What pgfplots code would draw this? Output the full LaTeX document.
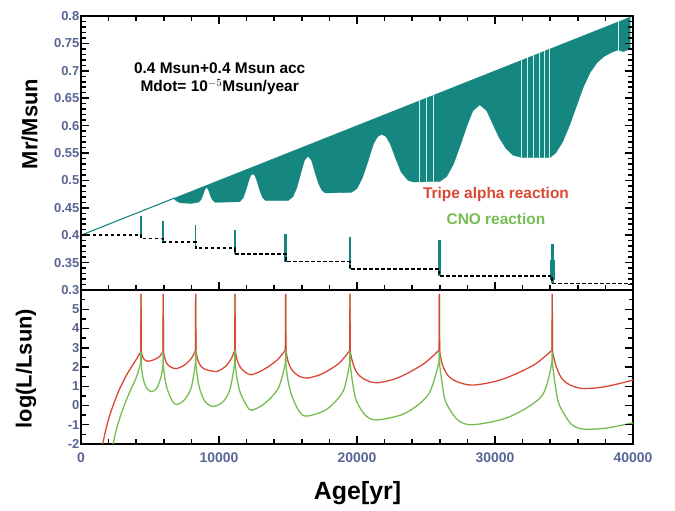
\documentclass[border=0pt]{standalone}
\usepackage{fontspec}
\setmainfont{Liberation Sans}
\usepackage{pgfplots}
\pgfplotsset{compat=1.18}

\definecolor{tealc}{RGB}{22,134,128}
\definecolor{redc}{RGB}{218,72,52}
\definecolor{greenc}{RGB}{118,188,82}
\definecolor{tickc}{RGB}{88,100,150}
\definecolor{gapc}{RGB}{205,242,242}

\pgfplotsset{
  base/.style={
    scale only axis, width=552bp, xmin=0, xmax=40000,
    xtick={0,10000,20000,30000,40000}, minor x tick num=4,
    axis line style={line width=1.3pt, draw=black},
    major tick length=8pt, minor tick length=5pt,
    tick style={draw=black, line width=1.5pt},
    tick label style={font=\fontsize{13}{13}\selectfont\bfseries, text=tickc},
    /pgf/number format/assume math mode=true,
    scaled x ticks=false, scaled y ticks=false,
    xticklabel style={/pgf/number format/set thousands separator={}, font=\fontsize{14}{14}\selectfont\bfseries, yshift=-5bp},
    yticklabel style={/pgf/number format/fixed, /pgf/number format/precision=2, inner sep=1.5bp},
  },
  redl/.style={redc, line width=1.3pt, smooth, tension=0.5},
  greenl/.style={greenc, line width=1.3pt, smooth, tension=0.5},
  tickln/.style={black, line width=1.5pt, unbounded coords=jump},
}

\begin{document}
\begin{tikzpicture}
\path (0,0) rectangle (675bp,511bp);

% ---------------- top panel ----------------
\begin{axis}[base, at={(81bp,221bp)}, anchor=south west, height=274bp,
  ymin=0.3, ymax=0.8,
  ytick={0.3,0.35,0.4,0.45,0.5,0.55,0.6,0.65,0.7,0.75,0.8},
  minor y tick num=4, xticklabels={},
  ylabel={Mr/Msun},
  ylabel style={at={(axis description cs:-0.093,0.606)}, anchor=center, font=\fontsize{22}{22}\selectfont\bfseries},
]
\addplot[tealc, line width=1.1pt] coordinates {(0,0.400) (6800,0.468)};
\addplot[fill=tealc, draw=tealc, line width=0.3pt] coordinates {
 (6700,0.467) (39800,0.798)
 (39800,0.740)(39300,0.735)(38900,0.738)(38400,0.733)(37900,0.726)(37400,0.715)
 (36900,0.697)(36400,0.670)(35900,0.635)(35400,0.600)(34900,0.570)(34400,0.550)
 (34000,0.542)(31900,0.542)
 (31300,0.546)(30800,0.558)(30300,0.578)(29800,0.605)(29400,0.627)(28900,0.638)
 (28400,0.627)(28000,0.602)(27500,0.565)(27000,0.530)(26500,0.507)(26000,0.498)
 (24100,0.497)(23700,0.500)(23200,0.515)(22800,0.540)(22400,0.567)(22100,0.580)
 (21800,0.584)(21500,0.580)(21200,0.567)(20800,0.535)(20400,0.505)(20000,0.485)
 (19600,0.478)(17700,0.477)(17450,0.482)(17200,0.495)(16950,0.515)(16700,0.537)
 (16450,0.544)(16200,0.537)(15950,0.515)(15650,0.487)(15350,0.470)(15000,0.463)
 (13400,0.463)(13150,0.469)(12950,0.482)(12750,0.499)(12600,0.509)(12450,0.512)
 (12300,0.509)(12150,0.499)(11950,0.482)(11750,0.468)(11500,0.461)(9700,0.460)
 (9500,0.465)(9350,0.474)(9250,0.482)(9100,0.488)(8950,0.482)(8850,0.474)
 (8700,0.465)(8500,0.460)(8000,0.458)(7200,0.459)(6950,0.462)
} -- cycle;
\addplot[gapc, line width=0.9pt, unbounded coords=jump] coordinates {
 (24500,0.495)(24500,0.648) (24500,nan)
 (25040,0.495)(25040,0.653) (25040,nan)
 (25570,0.495)(25570,0.658) (25570,nan)
 (31930,0.540)(31930,0.722) (31930,nan)
 (32340,0.540)(32340,0.726) (32340,nan)
 (32770,0.540)(32770,0.730) (32770,nan)
 (33190,0.540)(33190,0.734) (33190,nan)
 (33570,0.540)(33570,0.738) (33570,nan)
 (33930,0.540)(33930,0.742) (33930,nan)
 (38980,0.735)(38980,0.792)
};
\addplot[tealc, line width=1.4pt] coordinates {(4350,0.394)(4350,0.435)};
\addplot[tealc, line width=1.6pt] coordinates {(5960,0.387)(5960,0.425)};
\addplot[tealc, line width=1.6pt] coordinates {(8310,0.376)(8310,0.419)};
\addplot[tealc, line width=1.8pt] coordinates {(11160,0.366)(11160,0.410)};
\addplot[tealc, line width=2.6pt] coordinates {(14830,0.352)(14830,0.403)};
\addplot[tealc, line width=2.6pt] coordinates {(19490,0.338)(19490,0.396)};
\addplot[tealc, line width=2.8pt] coordinates {(25970,0.326)(25970,0.391)};
\addplot[tealc, line width=3.0pt] coordinates {(34150,0.312)(34150,0.384)};
\addplot[tealc, line width=4.5pt] coordinates {(34150,0.318)(34150,0.355)};
\addplot[black, line width=1.8pt, dash pattern=on 3.5pt off 2.5pt, const plot mark left] coordinates {
 (0,0.401)(4350,0.394)(5960,0.387)(8310,0.376)(11160,0.366)(14830,0.352)
 (19490,0.338)(25970,0.326)(34150,0.312)(40000,0.312)
};
% tick marks, bottom and top edges
\addplot[tickln] coordinates {
 (2000,0.3)(2000,0.3091)(2000,nan) (4000,0.3)(4000,0.3091)(4000,nan)
 (6000,0.3)(6000,0.3091)(6000,nan) (8000,0.3)(8000,0.3091)(8000,nan)
 (12000,0.3)(12000,0.3091)(12000,nan) (14000,0.3)(14000,0.3091)(14000,nan)
 (16000,0.3)(16000,0.3091)(16000,nan) (18000,0.3)(18000,0.3091)(18000,nan)
 (22000,0.3)(22000,0.3091)(22000,nan) (24000,0.3)(24000,0.3091)(24000,nan)
 (26000,0.3)(26000,0.3091)(26000,nan) (28000,0.3)(28000,0.3091)(28000,nan)
 (32000,0.3)(32000,0.3091)(32000,nan) (34000,0.3)(34000,0.3091)(34000,nan)
 (36000,0.3)(36000,0.3091)(36000,nan) (38000,0.3)(38000,0.3091)(38000,nan)
 (10000,0.3)(10000,0.3146)(10000,nan) (20000,0.3)(20000,0.3146)(20000,nan)
 (30000,0.3)(30000,0.3146)(30000,nan)
 (2000,0.8)(2000,0.7909)(2000,nan) (4000,0.8)(4000,0.7909)(4000,nan)
 (6000,0.8)(6000,0.7909)(6000,nan) (8000,0.8)(8000,0.7909)(8000,nan)
 (12000,0.8)(12000,0.7909)(12000,nan) (14000,0.8)(14000,0.7909)(14000,nan)
 (16000,0.8)(16000,0.7909)(16000,nan) (18000,0.8)(18000,0.7909)(18000,nan)
 (22000,0.8)(22000,0.7909)(22000,nan) (24000,0.8)(24000,0.7909)(24000,nan)
 (26000,0.8)(26000,0.7909)(26000,nan) (28000,0.8)(28000,0.7909)(28000,nan)
 (32000,0.8)(32000,0.7909)(32000,nan) (34000,0.8)(34000,0.7909)(34000,nan)
 (36000,0.8)(36000,0.7909)(36000,nan) (38000,0.8)(38000,0.7909)(38000,nan)
 (10000,0.8)(10000,0.7854)(10000,nan) (20000,0.8)(20000,0.7854)(20000,nan)
 (30000,0.8)(30000,0.7854)
};
% tick marks, left edge
\addplot[tickln] coordinates {
 (0,0.31)(362,0.31)(0,nan) (0,0.32)(362,0.32)(0,nan) (0,0.33)(362,0.33)(0,nan) (0,0.34)(362,0.34)(0,nan)
 (0,0.36)(362,0.36)(0,nan) (0,0.37)(362,0.37)(0,nan) (0,0.38)(362,0.38)(0,nan) (0,0.39)(362,0.39)(0,nan)
 (0,0.41)(362,0.41)(0,nan) (0,0.42)(362,0.42)(0,nan) (0,0.43)(362,0.43)(0,nan) (0,0.44)(362,0.44)(0,nan)
 (0,0.46)(362,0.46)(0,nan) (0,0.47)(362,0.47)(0,nan) (0,0.48)(362,0.48)(0,nan) (0,0.49)(362,0.49)(0,nan)
 (0,0.51)(362,0.51)(0,nan) (0,0.52)(362,0.52)(0,nan) (0,0.53)(362,0.53)(0,nan) (0,0.54)(362,0.54)(0,nan)
 (0,0.56)(362,0.56)(0,nan) (0,0.57)(362,0.57)(0,nan) (0,0.58)(362,0.58)(0,nan) (0,0.59)(362,0.59)(0,nan)
 (0,0.61)(362,0.61)(0,nan) (0,0.62)(362,0.62)(0,nan) (0,0.63)(362,0.63)(0,nan) (0,0.64)(362,0.64)(0,nan)
 (0,0.66)(362,0.66)(0,nan) (0,0.67)(362,0.67)(0,nan) (0,0.68)(362,0.68)(0,nan) (0,0.69)(362,0.69)(0,nan)
 (0,0.71)(362,0.71)(0,nan) (0,0.72)(362,0.72)(0,nan) (0,0.73)(362,0.73)(0,nan) (0,0.74)(362,0.74)(0,nan)
 (0,0.76)(362,0.76)(0,nan) (0,0.77)(362,0.77)(0,nan) (0,0.78)(362,0.78)(0,nan) (0,0.79)(362,0.79)(0,nan)
 (0,0.35)(580,0.35)(0,nan) (0,0.40)(580,0.40)(0,nan) (0,0.45)(580,0.45)(0,nan) (0,0.50)(580,0.50)(0,nan)
 (0,0.55)(580,0.55)(0,nan) (0,0.60)(580,0.60)(0,nan) (0,0.65)(580,0.65)(0,nan) (0,0.70)(580,0.70)(0,nan)
 (0,0.75)(580,0.75)
};
% tick marks, right edge
\addplot[tickln] coordinates {
 (40000,0.31)(39638,0.31)(0,nan) (40000,0.32)(39638,0.32)(0,nan) (40000,0.33)(39638,0.33)(0,nan) (40000,0.34)(39638,0.34)(0,nan)
 (40000,0.36)(39638,0.36)(0,nan) (40000,0.37)(39638,0.37)(0,nan) (40000,0.38)(39638,0.38)(0,nan) (40000,0.39)(39638,0.39)(0,nan)
 (40000,0.41)(39638,0.41)(0,nan) (40000,0.42)(39638,0.42)(0,nan) (40000,0.43)(39638,0.43)(0,nan) (40000,0.44)(39638,0.44)(0,nan)
 (40000,0.46)(39638,0.46)(0,nan) (40000,0.47)(39638,0.47)(0,nan) (40000,0.48)(39638,0.48)(0,nan) (40000,0.49)(39638,0.49)(0,nan)
 (40000,0.51)(39638,0.51)(0,nan) (40000,0.52)(39638,0.52)(0,nan) (40000,0.53)(39638,0.53)(0,nan) (40000,0.54)(39638,0.54)(0,nan)
 (40000,0.56)(39638,0.56)(0,nan) (40000,0.57)(39638,0.57)(0,nan) (40000,0.58)(39638,0.58)(0,nan) (40000,0.59)(39638,0.59)(0,nan)
 (40000,0.61)(39638,0.61)(0,nan) (40000,0.62)(39638,0.62)(0,nan) (40000,0.63)(39638,0.63)(0,nan) (40000,0.64)(39638,0.64)(0,nan)
 (40000,0.66)(39638,0.66)(0,nan) (40000,0.67)(39638,0.67)(0,nan) (40000,0.68)(39638,0.68)(0,nan) (40000,0.69)(39638,0.69)(0,nan)
 (40000,0.71)(39638,0.71)(0,nan) (40000,0.72)(39638,0.72)(0,nan) (40000,0.73)(39638,0.73)(0,nan) (40000,0.74)(39638,0.74)(0,nan)
 (40000,0.76)(39638,0.76)(0,nan) (40000,0.77)(39638,0.77)(0,nan) (40000,0.78)(39638,0.78)(0,nan) (40000,0.79)(39638,0.79)(0,nan)
 (40000,0.35)(39420,0.35)(0,nan) (40000,0.40)(39420,0.40)(0,nan) (40000,0.45)(39420,0.45)(0,nan) (40000,0.50)(39420,0.50)(0,nan)
 (40000,0.55)(39420,0.55)(0,nan) (40000,0.60)(39420,0.60)(0,nan) (40000,0.65)(39420,0.65)(0,nan) (40000,0.70)(39420,0.70)(0,nan)
 (40000,0.75)(39420,0.75)
};
\node[font=\fontsize{15.5}{18}\selectfont\bfseries, align=center] at (axis cs:10050,0.685)
 {0.4 Msun+0.4 Msun acc\\Mdot= 10$^{-5}$Msun/year};
\node[font=\fontsize{15.5}{15.5}\selectfont\bfseries, text=redc] at (axis cs:30070,0.4734) {Tripe alpha reaction};
\node[font=\fontsize{15.5}{15.5}\selectfont\bfseries, text=greenc] at (axis cs:30070,0.4296) {CNO reaction};
\end{axis}

% ---------------- bottom panel ----------------
\begin{axis}[base, at={(81bp,67bp)}, anchor=south west, height=154bp,
  ymin=-2, ymax=6, ytick={-2,-1,0,1,2,3,4,5}, minor y tick num=1,
  xtick pos=left, ytick pos=both,
  ylabel={log(L/Lsun)},
  ylabel style={at={(axis description cs:-0.0996,0.49)}, anchor=center, font=\fontsize{22}{22}\selectfont\bfseries},
  xlabel={Age[yr]},
  xlabel style={at={(axis description cs:0.501,-0.318)}, anchor=center, font=\fontsize{25}{25}\selectfont\bfseries},
]
\addplot[redl] coordinates {(1400,-2.5)(1570,-2)(1800,-1.25)(2000,-0.7)(2300,-0.05)(2700,0.7)(3200,1.45)(3700,2.05)(4100,2.5)(4330,2.8)};
\addplot[redl] coordinates {(4370,2.85)(4450,2.55)(4600,2.38)(4860,2.3)(5300,2.38)(5700,2.55)(5940,2.8)};
\addplot[redl] coordinates {(5980,2.8)(6080,2.45)(6250,2.15)(6550,1.98)(6930,1.92)(7500,2.1)(8000,2.45)(8290,2.85)};
\addplot[redl] coordinates {(8330,2.85)(8450,2.4)(8650,2.08)(9000,1.88)(9830,1.77)(10500,2.05)(10900,2.45)(11140,2.88)};
\addplot[redl] coordinates {(11180,2.85)(11320,2.35)(11550,1.98)(11900,1.74)(12350,1.6)(13200,1.85)(14200,2.35)(14810,2.88)};
\addplot[redl] coordinates {(14850,2.85)(15000,2.3)(15250,1.88)(15700,1.57)(16350,1.42)(17500,1.65)(18700,2.2)(19470,2.85)};
\addplot[redl] coordinates {(19510,2.8)(19700,2.2)(20000,1.7)(20500,1.38)(21430,1.18)(23000,1.45)(24800,2.15)(25950,2.88)};
\addplot[redl] coordinates {(25990,2.8)(26200,2.1)(26600,1.55)(27200,1.25)(28400,1.06)(30500,1.35)(32800,2.1)(34130,2.88)};
\addplot[redl] coordinates {(34170,2.8)(34400,2.1)(34800,1.45)(35400,1.08)(36380,0.88)(38000,0.98)(40000,1.32)};
\addplot[greenl] coordinates {(2150,-2.5)(2320,-2)(2600,-1.15)(3000,-0.25)(3500,0.65)(4000,1.45)(4330,2.2)};
\addplot[greenl] coordinates {(4370,2.1)(4450,1.6)(4600,1.15)(4800,0.85)(5120,0.72)(5500,0.9)(5800,1.5)(5940,2.1)};
\addplot[greenl] coordinates {(5980,2.0)(6080,1.4)(6250,0.85)(6600,0.25)(6930,0.05)(7500,0.3)(8000,0.95)(8290,2.2)};
\addplot[greenl] coordinates {(8330,2.1)(8450,1.4)(8650,0.75)(9000,0.2)(9570,-0.05)(10300,0.2)(10800,0.85)(11140,2.2)};
\addplot[greenl] coordinates {(11180,2.1)(11330,1.3)(11550,0.65)(12000,0.0)(12350,-0.25)(13300,0.1)(14300,0.9)(14810,2.2)};
\addplot[greenl] coordinates {(14850,2.1)(15000,1.3)(15250,0.55)(15800,-0.3)(16350,-0.55)(17800,-0.2)(19000,0.75)(19470,2.2)};
\addplot[greenl] coordinates {(19510,2.1)(19700,1.1)(19950,0.25)(20600,-0.5)(21430,-0.75)(23500,-0.4)(25200,0.6)(25950,2.3)};
\addplot[greenl] coordinates {(25990,2.1)(26200,1.0)(26450,0.15)(27300,-0.75)(28400,-1.0)(31000,-0.6)(33400,0.5)(34130,2.3)};
\addplot[greenl] coordinates {(34170,2.1)(34400,0.9)(34650,0.05)(35500,-0.95)(36380,-1.22)(38000,-1.18)(40000,-0.9)};
\addplot[greenc, line width=1.3pt, unbounded coords=jump] coordinates {
 (4330,2.2)(4350,5.8)(4370,2.1)(4370,nan)
 (5940,2.1)(5960,5.8)(5980,2.0)(5980,nan)
 (8290,2.2)(8310,5.8)(8330,2.1)(8330,nan)
 (11140,2.2)(11160,5.8)(11180,2.1)(11180,nan)
 (14810,2.2)(14830,5.8)(14850,2.1)(14850,nan)
 (19470,2.2)(19490,5.8)(19510,2.1)(19510,nan)
 (25950,2.3)(25970,5.8)(25990,2.1)(25990,nan)
 (34130,2.3)(34150,5.8)(34170,2.1)
};
\addplot[redc, line width=1.3pt, unbounded coords=jump] coordinates {
 (4330,2.8)(4350,5.8)(4370,2.85)(4370,nan)
 (5940,2.8)(5960,5.8)(5980,2.8)(5980,nan)
 (8290,2.85)(8310,5.8)(8330,2.85)(8330,nan)
 (11140,2.88)(11160,5.8)(11180,2.85)(11180,nan)
 (14810,2.88)(14830,5.8)(14850,2.85)(14850,nan)
 (19470,2.85)(19490,5.8)(19510,2.8)(19510,nan)
 (25950,2.88)(25970,5.8)(25990,2.8)(25990,nan)
 (34130,2.88)(34150,5.8)(34170,2.8)
};
% tick marks
\addplot[tickln] coordinates {
 (2000,-2)(2000,-1.74)(2000,nan) (4000,-2)(4000,-1.74)(4000,nan)
 (6000,-2)(6000,-1.74)(6000,nan) (8000,-2)(8000,-1.74)(8000,nan)
 (12000,-2)(12000,-1.74)(12000,nan) (14000,-2)(14000,-1.74)(14000,nan)
 (16000,-2)(16000,-1.74)(16000,nan) (18000,-2)(18000,-1.74)(18000,nan)
 (22000,-2)(22000,-1.74)(22000,nan) (24000,-2)(24000,-1.74)(24000,nan)
 (26000,-2)(26000,-1.74)(26000,nan) (28000,-2)(28000,-1.74)(28000,nan)
 (32000,-2)(32000,-1.74)(32000,nan) (34000,-2)(34000,-1.74)(34000,nan)
 (36000,-2)(36000,-1.74)(36000,nan) (38000,-2)(38000,-1.74)(38000,nan)
 (10000,-2)(10000,-1.584)(10000,nan) (20000,-2)(20000,-1.584)(20000,nan)
 (30000,-2)(30000,-1.584)
};
\addplot[tickln] coordinates {
 (0,-1.5)(290,-1.5)(0,nan) (0,-0.5)(290,-0.5)(0,nan) (0,0.5)(290,0.5)(0,nan) (0,1.5)(290,1.5)(0,nan)
 (0,2.5)(290,2.5)(0,nan) (0,3.5)(290,3.5)(0,nan) (0,4.5)(290,4.5)(0,nan) (0,5.5)(290,5.5)(0,nan)
 (0,-1)(580,-1)(0,nan) (0,0)(580,0)(0,nan) (0,1)(580,1)(0,nan) (0,2)(580,2)(0,nan)
 (0,3)(580,3)(0,nan) (0,4)(580,4)(0,nan) (0,5)(580,5)(0,nan)
 (40000,-1.5)(39710,-1.5)(0,nan) (40000,-0.5)(39710,-0.5)(0,nan) (40000,0.5)(39710,0.5)(0,nan) (40000,1.5)(39710,1.5)(0,nan)
 (40000,2.5)(39710,2.5)(0,nan) (40000,3.5)(39710,3.5)(0,nan) (40000,4.5)(39710,4.5)(0,nan) (40000,5.5)(39710,5.5)(0,nan)
 (40000,-1)(39420,-1)(0,nan) (40000,0)(39420,0)(0,nan) (40000,1)(39420,1)(0,nan) (40000,2)(39420,2)(0,nan)
 (40000,3)(39420,3)(0,nan) (40000,4)(39420,4)(0,nan) (40000,5)(39420,5)
};
\end{axis}
\end{tikzpicture}
\end{document}
